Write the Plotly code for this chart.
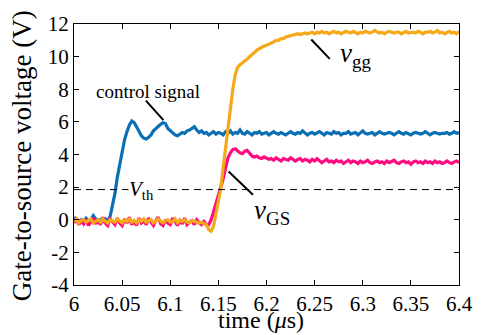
import plotly.graph_objects as go

# time base (microseconds), sampled every 2.5 ns
t = [round(6.0 + i * 0.0025, 4) for i in range(161)]

control_signal = [
    0.15, 0.05, -0.1, 0.0, -0.05, 0.1, -0.1, 0.0, 0.25, 0.05,
    -0.1, 0.0, -0.05, 0.05, -0.1,
    0.2, 0.9, 1.6, 2.6, 3.4, 4.2, 4.9, 5.4, 5.8, 6.05,
    5.95, 5.7, 5.4, 5.15, 5.0, 4.95, 5.05, 5.2, 5.45, 5.6,
    5.75, 5.85, 5.95, 5.9, 5.6, 5.45, 5.3, 5.2, 5.15, 5.25,
    5.35, 5.3, 5.45, 5.5, 5.6, 5.7, 5.5, 5.35, 5.45, 5.3,
    5.35, 5.2, 5.3, 5.4, 5.25, 5.35, 5.3, 5.2, 5.4, 5.3,
    5.45, 5.25, 5.35, 5.3, 5.5, 5.3, 5.25, 5.4, 5.3, 5.2,
    5.35, 5.3, 5.4, 5.25, 5.3, 5.35, 5.2, 5.3, 5.4, 5.3,
    5.25, 5.35, 5.3, 5.2, 5.3, 5.4, 5.3, 5.25, 5.35, 5.3,
    5.45, 5.3, 5.2, 5.3, 5.35, 5.25, 5.3, 5.4, 5.3, 5.2,
    5.35, 5.3, 5.25, 5.4, 5.3, 5.35, 5.2, 5.3, 5.3, 5.4,
    5.25, 5.3, 5.35, 5.2, 5.3, 5.45, 5.3, 5.25, 5.3, 5.35,
    5.2, 5.3, 5.4, 5.3, 5.25, 5.3, 5.35, 5.3, 5.2, 5.3,
    5.4, 5.3, 5.25, 5.35, 5.3, 5.2, 5.3, 5.35, 5.3, 5.25,
    5.3, 5.4, 5.3, 5.2, 5.3, 5.35, 5.3, 5.25, 5.3, 5.3,
    5.35, 5.25, 5.3, 5.4, 5.3, 5.35,
]

v_gg = [
    -0.1, 0.05, -0.2, -0.05, 0.0, -0.15, -0.05, 0.05, -0.2, -0.1,
    0.0, -0.15, 0.05, -0.1, -0.2, 0.0, -0.05, -0.15, 0.05, -0.1,
    -0.2, 0.0, -0.1, 0.05, -0.15, -0.05, -0.2, 0.0, -0.1, 0.05,
    -0.15, -0.05, 0.0, -0.2, -0.1, 0.05, -0.1, -0.2, -0.05, 0.0,
    -0.15, -0.1, 0.05, -0.2, -0.05, -0.1, 0.0, -0.15, -0.2, -0.05,
    -0.1, -0.15, -0.2, -0.15, -0.2,
    -0.3, -0.6, -0.7, -0.4, 0.3, 1.1, 1.9, 3.2, 4.5, 5.6,
    6.8, 8.0, 8.9, 9.35, 9.5, 9.6, 9.75, 9.85, 10.0, 10.1,
    10.25, 10.4, 10.5, 10.55, 10.65, 10.7, 10.75, 10.8, 10.9, 11.0,
    11.0, 11.1, 11.1, 11.2, 11.25, 11.3, 11.35, 11.35, 11.4, 11.35,
    11.4, 11.45, 11.4, 11.45, 11.5, 11.4, 11.5, 11.45, 11.55, 11.45,
    11.5, 11.4, 11.5, 11.55, 11.45, 11.5, 11.4, 11.5, 11.55, 11.5,
    11.45, 11.55, 11.5, 11.4, 11.5, 11.45, 11.55, 11.5, 11.45, 11.5,
    11.6, 11.5, 11.45, 11.5, 11.4, 11.5, 11.55, 11.5, 11.45, 11.5,
    11.5, 11.4, 11.5, 11.55, 11.45, 11.5, 11.5, 11.45, 11.55, 11.5,
    11.4, 11.5, 11.5, 11.55, 11.45, 11.5, 11.6, 11.45, 11.5, 11.4,
    11.5, 11.55, 11.45, 11.5, 11.4, 11.55,
]

v_gs = [
    -0.2, 0.1, -0.3, -0.05, -0.25, 0.05, -0.35, -0.1, 0.1, -0.25,
    -0.05, -0.3, 0.15, -0.2, -0.35, 0.05, -0.15, -0.3, 0.1, -0.2,
    -0.35, 0.05, -0.2, 0.15, -0.3, -0.1, -0.35, 0.1, -0.2, -0.05,
    -0.3, 0.1, -0.15, -0.35, -0.05, 0.15, -0.25, -0.35, 0.0, -0.2,
    -0.3, 0.1, -0.1, -0.35, -0.05, -0.25, 0.1, -0.3, -0.15, -0.05,
    -0.3, 0.0, -0.2, -0.3, -0.1, -0.3,
    -0.3, 0.0, 0.5, 1.0, 1.4, 1.9, 2.5, 3.2, 3.8, 4.1,
    4.3, 4.35, 4.2, 4.1, 4.05, 4.2, 4.25, 4.1, 3.9, 3.85,
    3.9, 3.8, 3.75, 3.85, 3.8, 3.7, 3.75, 3.65, 3.8, 3.7,
    3.6, 3.75, 3.7, 3.65, 3.8, 3.7, 3.6, 3.7, 3.75, 3.6,
    3.7, 3.65, 3.55, 3.7, 3.6, 3.75, 3.65, 3.5, 3.6, 3.7,
    3.55, 3.6, 3.5, 3.65, 3.55, 3.6, 3.45, 3.55, 3.65, 3.5,
    3.6, 3.55, 3.45, 3.6, 3.5, 3.55, 3.65, 3.5, 3.45, 3.55,
    3.6, 3.5, 3.55, 3.45, 3.6, 3.5, 3.55, 3.65, 3.5, 3.45,
    3.55, 3.6, 3.5, 3.55, 3.4, 3.55, 3.6, 3.5, 3.55, 3.45,
    3.6, 3.5, 3.55, 3.45, 3.6, 3.5, 3.55, 3.45, 3.5, 3.6,
    3.5, 3.45, 3.55, 3.6, 3.5,
]

v_th = 1.85

x_tickvals = [6.0, 6.05, 6.1, 6.15, 6.2, 6.25, 6.3, 6.35, 6.4]
x_ticktext = ["6", "6.05", "6.1", "6.15", "6.2", "6.25", "6.3", "6.35", "6.4"]
y_tickvals = [-4, -2, 0, 2, 4, 6, 8, 10, 12]
y_ticktext = ["-4", "-2", "0", "2", "4", "6", "8", "10", "12"]

FONT = "Liberation Serif, Times New Roman, DejaVu Serif, serif"
BLUE = "#0a6fb5"
PINK = "#ff0a80"
ORANGE = "#f5a818"

fig = go.Figure()
fig.add_trace(go.Scatter(x=t, y=control_signal, mode="lines",
                         line=dict(color=BLUE, width=3.2), showlegend=False))
fig.add_trace(go.Scatter(x=t, y=v_gs, mode="lines",
                         line=dict(color=PINK, width=3.2), showlegend=False))
fig.add_trace(go.Scatter(x=t, y=v_gg, mode="lines",
                         line=dict(color=ORANGE, width=3.2), showlegend=False))

# threshold dashed line
fig.add_shape(type="line", xref="paper", yref="y", x0=0, x1=1, y0=v_th, y1=v_th,
              line=dict(color="black", width=1, dash="7px,5px"))

# pointer lines
for (xa, ya, xb, yb) in [(6.0747, 7.30, 6.0929, 6.11),
                         (6.2465, 11.05, 6.2657, 9.86),
                         (6.1606, 2.96, 6.1859, 1.53)]:
    fig.add_shape(type="line", xref="x", yref="y", x0=xa, y0=ya, x1=xb, y1=yb,
                  line=dict(color="black", width=2))

fig.add_annotation(x=6.0768, y=7.85, xref="x", yref="y", text="control signal",
                   showarrow=False, font=dict(family=FONT, size=19, color="black"))
fig.add_annotation(x=6.2745, y=10.1, xref="x", yref="y", xanchor="left",
                   text="<i>v</i><sub>gg</sub>", showarrow=False,
                   font=dict(family=FONT, size=27, color="black"))
fig.add_annotation(x=6.185, y=0.45, xref="x", yref="y", xanchor="left",
                   text="<i>v</i><sub>GS</sub>", showarrow=False,
                   font=dict(family=FONT, size=27, color="black"))
fig.add_annotation(x=6.0556, y=v_th, xref="x", yref="y", xanchor="left",
                   text="<i>V</i><sub>th</sub>", showarrow=False, bgcolor="white",
                   borderpad=0,
                   font=dict(family=FONT, size=21, color="black"))

# axis titles
fig.add_annotation(x=-0.136, y=0.496, xref="paper", yref="paper", textangle=-90,
                   xanchor="center", yanchor="middle", showarrow=False,
                   text="Gate-to-source voltage (V)",
                   font=dict(family=FONT, size=27, color="black"))
fig.add_annotation(x=0.486, y=-0.192, xref="paper", yref="paper",
                   xanchor="center", yanchor="bottom", showarrow=False,
                   text="time (<i>μ</i>s)",
                   font=dict(family=FONT, size=24, color="black"))

axis_common = dict(showline=True, linecolor="black", linewidth=1, mirror="ticks",
                   ticks="inside", ticklen=5, tickcolor="black", showgrid=False,
                   zeroline=False, tickfont=dict(family=FONT, size=21, color="black"))

fig.update_xaxes(range=[6.0, 6.4], tickvals=x_tickvals, ticktext=x_ticktext,
                 **axis_common)
fig.update_yaxes(range=[-4, 12], tickvals=y_tickvals, ticktext=y_ticktext,
                 **axis_common)

fig.update_layout(width=485, height=335, margin=dict(l=74, r=15, t=16, b=50),
                  plot_bgcolor="white", paper_bgcolor="white",
                  font=dict(family=FONT, color="black"))

fig.write_html("out.html")
